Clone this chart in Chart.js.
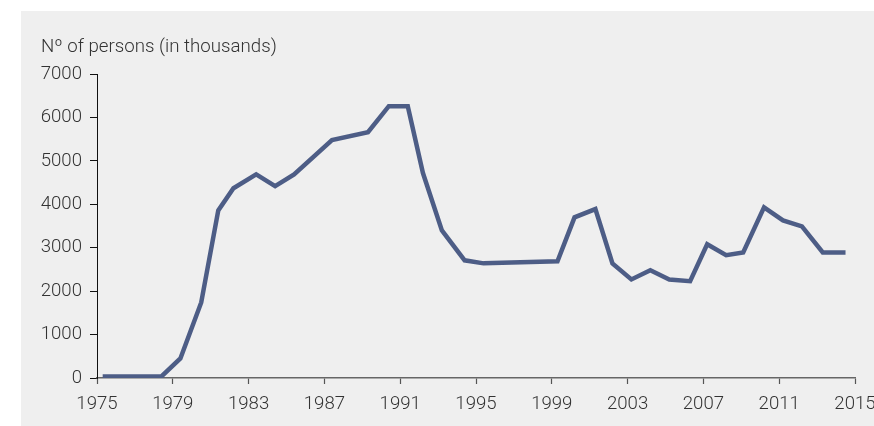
<!DOCTYPE html>
<html>
<head>
<meta charset="utf-8">
<script src="https://cdn.jsdelivr.net/npm/chart.js@4"></script>
<style>
  html, body { margin: 0; padding: 0; background: #ffffff; overflow: hidden; }
  #panel { position: absolute; left: 21px; top: 11px; width: 853px; height: 415px; background: #efefef; overflow: hidden; }
  canvas { display: block; }
</style>
</head>
<body>
<div id="panel"><canvas id="c" width="900" height="415"></canvas></div>
<script>
// Data (decimal year positions, thousands of persons)
const years = [1975.3, 1978.4, 1979.4, 1980.5, 1981.4, 1982.2, 1983.4, 1984.4, 1985.4, 1987.4,
               1989.3, 1990.4, 1991.4, 1992.2, 1993.2, 1994.4, 1995.4, 1999.3, 2000.2, 2001.3,
               2002.2, 2003.2, 2004.2, 2005.2, 2006.3, 2007.2, 2008.2, 2009.1, 2010.2, 2011.2,
               2012.2, 2013.3, 2014.5];
const persons = [35, 35, 450, 1740, 3860, 4370, 4690, 4420, 4690, 5480,
                 5660, 6260, 6260, 4720, 3400, 2710, 2640, 2690, 3700, 3890,
                 2640, 2270, 2480, 2270, 2230, 3080, 2830, 2890, 3930, 3630,
                 3490, 2890, 2890];
const xTickYears = [1975, 1979, 1983, 1987, 1991, 1995, 1999, 2003, 2007, 2011, 2015];
const yTickValues = [0, 1000, 2000, 3000, 4000, 5000, 6000, 7000];
const titleText = 'Nº of persons (in thousands)';

const points = years.map((y, i) => ({ x: y, y: persons[i] }));
const tickFont = { family: 'Roboto', size: 18.6, weight: 300 };
const titleFont = { family: 'Roboto', size: 18.7, weight: 300 };

new Chart(document.getElementById('c'), {
  type: 'line',
  data: {
    datasets: [{
      data: points,
      borderColor: '#4d5d86',
      borderWidth: 4.5,
      pointRadius: 0,
      tension: 0,
      fill: false,
      borderJoinStyle: 'miter'
    }]
  },
  options: {
    responsive: false,
    animation: false,
    layout: { padding: { left: 20, right: 66, top: 0, bottom: 0 } },
    plugins: {
      legend: { display: false },
      tooltip: { enabled: false },
      title: {
        display: true,
        text: titleText,
        align: 'start',
        color: '#333',
        font: titleFont,
        padding: { top: 25.5, bottom: 15.1 }
      }
    },
    scales: {
      x: {
        type: 'linear',
        min: 1975,
        max: 2015,
        afterBuildTicks: s => { s.ticks = xTickYears.map(v => ({ value: v })); },
        ticks: { color: '#333', font: tickFont, padding: 9.5, maxRotation: 0, callback: v => String(v) },
        grid: { drawOnChartArea: false, drawTicks: true, tickLength: 6, tickColor: '#555', tickWidth: 1.2 },
        border: { display: true, color: '#666', width: 1.5 },
        afterFit: s => { s.height = 48; }
      },
      y: {
        type: 'linear',
        min: 0,
        max: 7000,
        afterBuildTicks: s => { s.ticks = yTickValues.map(v => ({ value: v })); },
        ticks: { color: '#333', font: tickFont, padding: 8, callback: v => String(v) },
        grid: { drawOnChartArea: false, drawTicks: true, tickLength: 7, tickColor: '#111', tickWidth: 1 },
        border: { display: true, color: '#111', width: 1 },
        afterFit: s => { s.width = 56; }
      }
    }
  }
});
</script>
</body>
</html>
